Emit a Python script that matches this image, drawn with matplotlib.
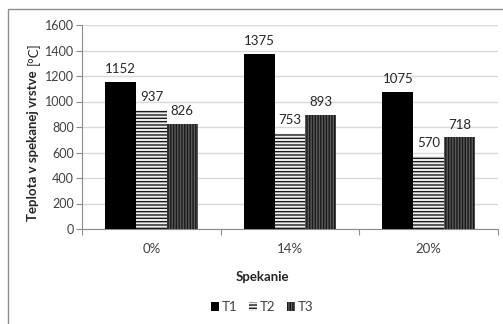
import matplotlib
matplotlib.use("Agg")
import matplotlib.pyplot as plt
from matplotlib.patches import Rectangle
import numpy as np

categories = ["0%", "14%", "20%"]
series_names = ["T1", "T2", "T3"]
t1 = [1152, 1375, 1075]
t2 = [937, 753, 570]
t3 = [826, 893, 718]
y_ticks = [0, 200, 400, 600, 800, 1000, 1200, 1400, 1600]

plt.rcParams["font.family"] = ["Lato", "DejaVu Sans"]
plt.rcParams["hatch.linewidth"] = 1.0

W, H = 503, 324
fig = plt.figure(figsize=(W / 100, H / 100), dpi=100)

# outer chart frame
fig.patches.append(Rectangle((8 / W, -0.1), 2, 1 - 9 / H + 0.1,
                             transform=fig.transFigure, fill=False,
                             edgecolor="#8c8c8c", linewidth=1.0))

ax = fig.add_axes([82 / W, 1 - 229 / H, (498 - 82) / W, (229 - 25) / H])

x = np.arange(len(categories))
w = 1 / 4.5
styles = [
    dict(facecolor="black", edgecolor="black", hatch=None),
    dict(facecolor="#f0f0f0", edgecolor="#1a1a1a", hatch="-----"),
    dict(facecolor="#5a5a5a", edgecolor="#1a1a1a", hatch="||||||"),
]
for i, (vals, st) in enumerate(zip([t1, t2, t3], styles)):
    bars = ax.bar(x + (i - 1) * w, vals, width=w, label=series_names[i],
                  facecolor=st["facecolor"], edgecolor=st["edgecolor"],
                  hatch=st["hatch"], linewidth=0, zorder=3)
    for b, v in zip(bars, vals):
        ax.annotate(str(v), (b.get_x() + b.get_width() / 2, v),
                    xytext=(0, 5), textcoords="offset points",
                    ha="center", va="bottom", fontsize=9.5, color="#262626")

ax.set_xlim(-0.5, len(categories) - 0.5)
ax.set_ylim(0, 1600)
ax.set_yticks(y_ticks)
ax.tick_params(axis="y", labelsize=9, colors="#8c8c8c", labelcolor="#404040",
               length=4, width=0.8, pad=2)
ax.set_xticks(x)
ax.set_xticklabels(categories)
ax.set_xticks(np.arange(-0.5, len(categories)), minor=True)
ax.tick_params(axis="x", which="major", length=0, labelsize=9.5,
               labelcolor="#404040", pad=10)
ax.tick_params(axis="x", which="minor", length=4, width=0.8, colors="#8c8c8c")
ax.grid(axis="y", color="#d9d9d9", linewidth=1.0, zorder=0)
for s in ["top", "right"]:
    ax.spines[s].set_visible(False)
for s in ["left", "bottom"]:
    ax.spines[s].set_color("#8c8c8c")
    ax.spines[s].set_linewidth(0.8)

fig.text(262 / W, 1 - 277 / H, "Spekanie", ha="center", va="center",
         fontsize=9.5, fontweight="bold", color="#262626")
# vertical axis title: bold quantity followed by regular unit
fig.text(33 / W, 1 - 70 / H, "Teplota v spekanej vrstve", rotation=90,
         ha="center", va="top", fontsize=9.5, fontweight="bold",
         color="#262626")
fig.text(33 / W, 1 - 42 / H, "[°C]", rotation=90, ha="center", va="top",
         fontsize=9.5, color="#262626")

leg = fig.legend(loc="center", bbox_to_anchor=(262 / W, 1 - 307 / H),
                 ncol=3, frameon=False, fontsize=9.5, handlelength=0.6,
                 handleheight=0.6, handletextpad=0.2, columnspacing=0.9)
for t in leg.get_texts():
    t.set_color("#404040")

fig.savefig("out.png", dpi=100)
